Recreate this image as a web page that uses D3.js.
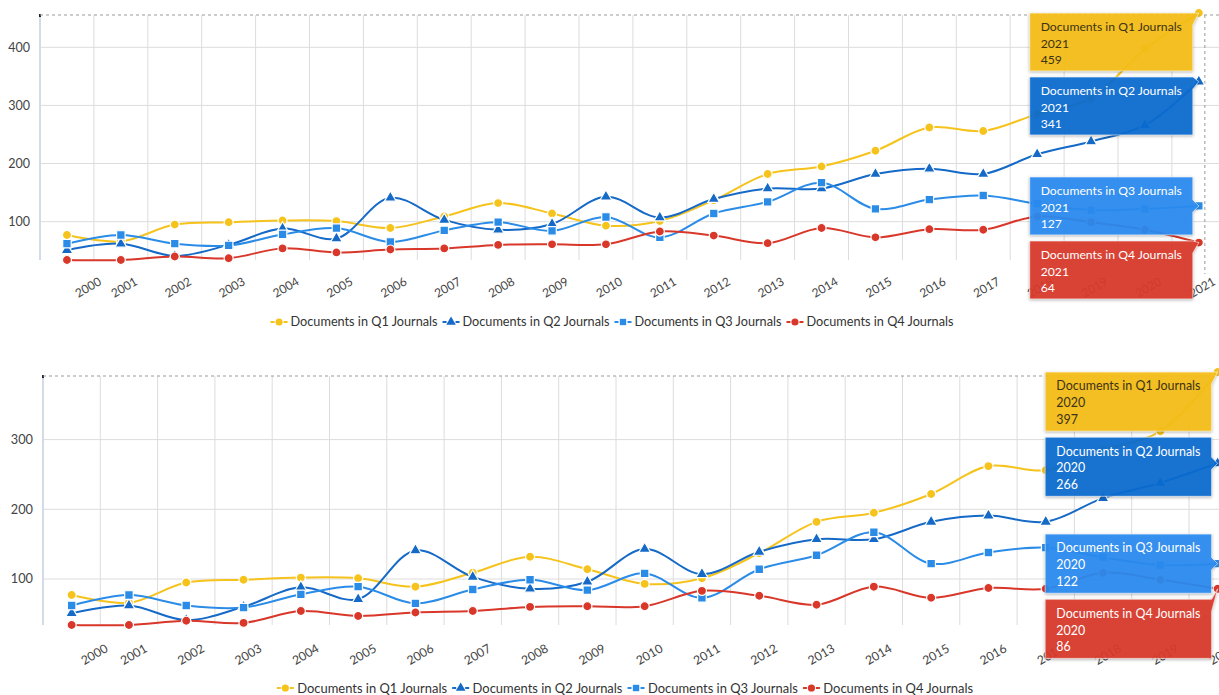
<!DOCTYPE html>
<html>
<head>
<meta charset="utf-8">
<script src="https://cdn.jsdelivr.net/npm/d3@7"></script>
<style>
  body { margin: 0; background: #fff; }
  text { font-family: Lato, "Open Sans", sans-serif; }
</style>
</head>
<body>
<script>
const width = 1219, height = 695;

// data
const years = [2000, 2001, 2002, 2003, 2004, 2005, 2006, 2007, 2008, 2009, 2010,
               2011, 2012, 2013, 2014, 2015, 2016, 2017, 2018, 2019, 2020, 2021];
const q1 = [77, 66, 95, 99, 102, 101, 89, 109, 132, 114, 93, 101, 137, 182, 195, 222, 262, 256, 285, 312, 397, 459];
const q2 = [51, 62, 41, 60, 88, 71, 141, 103, 86, 96, 143, 107, 139, 157, 157, 182, 191, 182, 216, 238, 266, 341];
const q3 = [62, 77, 62, 59, 78, 89, 65, 85, 99, 84, 108, 73, 114, 134, 167, 122, 138, 145, 131, 120, 122, 127];
const q4 = [34, 34, 40, 37, 54, 47, 52, 54, 60, 61, 61, 83, 76, 63, 89, 73, 87, 86, 109, 99, 86, 64];
const seriesNames = ["Documents in Q1 Journals", "Documents in Q2 Journals",
                     "Documents in Q3 Journals", "Documents in Q4 Journals"];
const yTicksTop = [100, 200, 300, 400];
const yTicksBottom = [100, 200, 300];

const series = [
  {name: seriesNames[0], values: q1, color: "#f6c31c", tip: "#f8bf17", tipText: "#3d3318", shape: d3.symbolCircle, size: 64},
  {name: seriesNames[1], values: q2, color: "#1569c7", tip: "#0b6dd2", tipText: "#fff", shape: d3.symbolTriangle, size: 60},
  {name: seriesNames[2], values: q3, color: "#2b8ce8", tip: "#2a8cf2", tipText: "#fff", shape: d3.symbolSquare, size: 72},
  {name: seriesNames[3], values: q4, color: "#d8372a", tip: "#dc3a2b", tipText: "#fff", shape: d3.symbolCircle, size: 64}
];

const svg = d3.select("body").append("svg")
    .attr("width", width)
    .attr("height", height);

function drawChart(cfg) {
  const n = cfg.n;
  const yrs = years.slice(0, n);
  const all = series.flatMap(s => s.values.slice(0, n));
  const x = d3.scaleBand().domain(yrs).range([cfg.left, cfg.left + n * cfg.band]);
  const bw = x.bandwidth();
  const y = d3.scaleLinear().domain([d3.min(all), d3.max(all)]).range([cfg.bottom, cfg.top]);
  const fs = cfg.scale;

  const g = svg.append("g");

  // vertical grid
  g.selectAll(".vg").data(yrs).join("line")
      .attr("x1", d => x(d) + bw).attr("x2", d => x(d) + bw)
      .attr("y1", cfg.cursorY).attr("y2", cfg.bottom)
      .attr("stroke", "#dcdcdc").attr("stroke-width", 1);

  // horizontal grid
  g.selectAll(".hg").data(cfg.ticks).join("line")
      .attr("x1", cfg.left).attr("x2", width)
      .attr("y1", d => y(d)).attr("y2", d => y(d))
      .attr("stroke", "#dcdcdc").attr("stroke-width", 1);

  // left axis line
  g.append("line")
      .attr("x1", cfg.left).attr("x2", cfg.left)
      .attr("y1", cfg.cursorY).attr("y2", cfg.bottom)
      .attr("stroke", "#d3dbe6").attr("stroke-width", 2);
  g.append("rect")
      .attr("x", cfg.left - 1).attr("y", cfg.cursorY - 1)
      .attr("width", 2).attr("height", 3).attr("fill", "#222");

  // y labels
  g.selectAll(".yl").data(cfg.ticks).join("text")
      .attr("x", cfg.left - 10).attr("y", d => y(d))
      .attr("dy", "0.35em")
      .attr("text-anchor", "end")
      .attr("font-size", 12.5 * fs)
      .attr("fill", "#444")
      .text(d => d);

  // x labels
  g.selectAll(".xl").data(yrs).join("text")
      .attr("transform", (d, i) => {
        const lx = x(d) + bw + (i === 0 ? 8.5 : -9.5);
        return `translate(${lx},${cfg.bottom + cfg.labelDy}) rotate(-30)`;
      })
      .attr("text-anchor", "end")
      .attr("font-size", 12 * fs)
      .attr("fill", "#444")
      .text(d => d);

  // cursor lines
  const cx = x(yrs[n - 1]) + bw / 2 + 6;
  g.append("line")
      .attr("x1", cfg.left).attr("x2", width)
      .attr("y1", cfg.cursorY).attr("y2", cfg.cursorY)
      .attr("stroke", "#999").attr("stroke-dasharray", "3,3");
  g.append("line")
      .attr("x1", cx).attr("x2", cx)
      .attr("y1", cfg.cursorY).attr("y2", cfg.bottom + 14)
      .attr("stroke", "#999").attr("stroke-dasharray", "3,3");

  const line = d3.line()
      .x((d, i) => x(yrs[i]) + bw / 2)
      .y(d => y(d))
      .curve(d3.curveCatmullRom.alpha(0.5));

  series.forEach(s => {
    g.append("path")
        .datum(s.values.slice(0, n))
        .attr("d", line)
        .attr("fill", "none")
        .attr("stroke", s.color)
        .attr("stroke-width", 2);
  });

  series.forEach(s => {
    g.selectAll(null).data(s.values.slice(0, n)).join("path")
        .attr("transform", (d, i) => `translate(${x(yrs[i]) + bw / 2},${y(d)})`)
        .attr("d", d3.symbol(s.shape, s.size * fs))
        .attr("fill", s.color)
        .attr("stroke", "#fff")
        .attr("stroke-width", 1.2);
  });

  // tooltips for the last year
  const px = x(yrs[n - 1]) + bw / 2;
  const boxH = 58 * fs, gap = 6;
  const tips = series.map(s => ({s, v: s.values[n - 1], py: y(s.values[n - 1])}))
      .sort((a, b) => a.py - b.py);
  let prevBottom = -Infinity;
  tips.forEach(t => {
    let top = Math.max(t.py - boxH / 2, prevBottom + gap, cfg.top);
    t.top = top;
    prevBottom = top + boxH;
  });

  tips.forEach(t => {
    const tg = g.append("g");
    const txt = tg.append("text")
        .attr("font-size", 12.2 * fs)
        .attr("fill", t.s.tipText);
    const lines = [t.s.name, yrs[n - 1], t.v];
    lines.forEach((l, i) => {
      txt.append("tspan").attr("x", 0).attr("y", (18 + i * 16.6) * fs).text(l);
    });
    const tw = txt.node().getBBox().width;
    const right = px - 6, w = tw + 22 * fs, left = right - w;
    const top = t.top, bot = top + boxH;
    const ty = Math.max(top + 6, Math.min(bot - 6, t.py));
    const p = `M${left},${top}H${right}V${ty - 6}L${px},${t.py}L${right},${ty + 6}V${bot}H${left}Z`;
    tg.insert("path", "text")
        .attr("d", p)
        .attr("fill", t.s.tip)
        .attr("fill-opacity", 0.93)
        .attr("stroke", "#fff")
        .attr("stroke-opacity", 0.6)
        .style("filter", "drop-shadow(0px 1px 1.5px rgba(0,0,0,0.3))");
    txt.attr("transform", `translate(${left + 11 * fs},${top})`);
  });

  // legend
  const lg = g.append("g");
  let lx = 0;
  series.forEach(s => {
    const it = lg.append("g").attr("transform", `translate(${lx},0)`);
    it.append("line").attr("x1", 0).attr("x2", 4).attr("y1", 0).attr("y2", 0)
        .attr("stroke", s.color).attr("stroke-width", 2);
    it.append("line").attr("x1", 13).attr("x2", 17).attr("y1", 0).attr("y2", 0)
        .attr("stroke", s.color).attr("stroke-width", 2);
    it.append("path").attr("transform", "translate(8.5,0)")
        .attr("d", d3.symbol(s.shape, 40 * fs))
        .attr("fill", s.color);
    const t = it.append("text")
        .attr("x", 20 * fs).attr("dy", "0.35em")
        .attr("font-size", 12.7 * fs)
        .attr("fill", "#333")
        .text(s.name);
    lx += 20 * fs + t.node().getComputedTextLength() + 5 * fs;
  });
  lx -= 5 * fs;
  lg.attr("transform", `translate(${cfg.legendCx - lx / 2},${cfg.legendY})`);
}

drawChart({n: 22, left: 40, band: 53.9, top: 13, bottom: 260, cursorY: 15,
           ticks: yTicksTop, labelDy: 24, legendY: 322, legendCx: 612, scale: 1});
drawChart({n: 21, left: 43, band: 57.3, top: 372, bottom: 625, cursorY: 376,
           ticks: yTicksBottom, labelDy: 26, legendY: 688, legendCx: 625, scale: 1.02});
</script>
</body>
</html>
